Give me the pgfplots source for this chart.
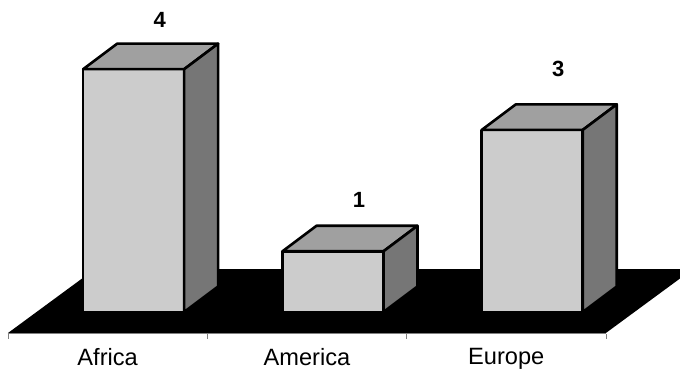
\documentclass[border=0pt]{standalone}
\usepackage{pgfplots}
\pgfplotsset{compat=1.18}
\usepackage{pgfplotstable}
\usepackage{fontspec}
\setmainfont{Liberation Sans}

\definecolor{frontgray}{HTML}{CCCCCC}
\definecolor{topgray}{HTML}{A0A0A0}
\definecolor{sidegray}{HTML}{767676}
\definecolor{axisgray}{HTML}{808080}

% category position, value, vertical offset of the value label (pt)
\pgfplotstableread{
x v ly
0 4 49
1 1 51
2 3 61
}\bars

% an empty plot mark: the boxes are drawn by the scatter code
\pgfdeclareplotmark{nothing}{}

\begin{document}
\begin{tikzpicture}
\begin{axis}[
  x=199.3pt, y=60.7pt,
  xmin=-0.5, xmax=2.8718,
  ymin=-0.36, ymax=5.14,
  axis x line*=bottom, axis y line=none,
  x axis line style={draw=none},
  xtick={0,1,2},
  xticklabels={Africa,America,Europe},
  minor xtick={-0.5,0.5,1.5,2.5},
  major tick length=0pt,
  minor tick length=5pt,
  tick align=outside,
  tick style={axisgray, line width=0.8pt},
  xticklabel shift=0pt,
  xticklabel style={anchor=north, inner sep=0pt, yshift=-14.5pt,
    font=\fontsize{23.6}{27}\selectfont},
  ytick=\empty,
  /pgf/number format/assume math mode=true,
]
% floor
\addplot[fill=black, draw=none] coordinates
  {(-0.5,-0.346) (2.5,-0.346) (2.9365,0.708) (-0.0635,0.708)} -- cycle;
\addplot[axisgray, line width=1pt] coordinates {(-0.5,-0.346) (2.5,-0.346)};

% front faces
\addplot[ybar, bar width=101pt, bar shift=26pt, fill=frontgray,
  draw=black, line width=2.6pt, line join=round]
  table[x=x, y=v] {\bars};

% top and side faces
\addplot[only marks, mark=nothing, scatter,
  visualization depends on={\thisrow{v} \as \barval},
  scatter/@pre marker code/.code={%
    \pgfmathsetmacro\h{\barval*60.7}%
    \path[fill=topgray, draw=black, line width=2.6pt, line join=round]
      (-24.5pt,0pt) -- (76.5pt,0pt) -- (110.5pt,25.5pt) -- (9.5pt,25.5pt) -- cycle;
    \path[fill=sidegray, draw=black, line width=2.6pt, line join=round]
      (76.5pt,0pt) -- (110.5pt,25.5pt) -- ({110.5pt},{(25.5-\h)*1pt})
      -- ({76.5pt},{-\h*1pt}) -- cycle;
  },
  scatter/@post marker code/.code={},
] table[x=x, y=v] {\bars};

% value labels
\addplot[only marks, mark=nothing,
  visualization depends on={\thisrow{ly} \as \laby},
  nodes near coords,
  every node near coord/.append style={anchor=center, inner sep=0pt,
    xshift=52pt, yshift=\laby pt, text=black,
    font=\fontsize{22}{26}\selectfont\bfseries},
] table[x=x, y=v] {\bars};
\end{axis}
\pgfresetboundingbox
\path[use as bounding box] (current axis.south west) ++(-8pt,-38.15pt)
  rectangle (current axis.north east);
\end{tikzpicture}
\end{document}
